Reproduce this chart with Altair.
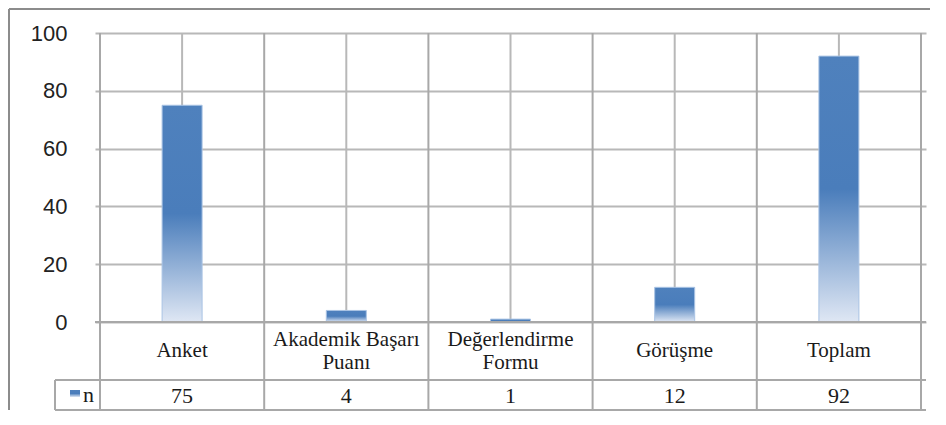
import altair as alt
import pandas as pd

# ---- data ----
categories = ["Anket", "Akademik Başarı Puanı", "Değerlendirme Formu", "Görüşme", "Toplam"]
label_lines = [["Anket"], ["Akademik Başarı", "Puanı"], ["Değerlendirme", "Formu"], ["Görüşme"], ["Toplam"]]
values = [75, 4, 1, 12, 92]
series_name = "n"
y_ticks = [0, 20, 40, 60, 80, 100]

ncat = len(categories)
df = pd.DataFrame({
    "cat": categories,
    "pos": [i + 0.5 for i in range(ncat)],
    "n": values,
})
bounds_df = pd.DataFrame({"b": list(range(ncat + 1))})

lab_rows = []
for i, lines in enumerate(label_lines):
    for k, t in enumerate(lines):
        lab_rows.append({"pos": i + 0.5, "t": t, "k": k, "m": len(lines)})
lab_df = pd.DataFrame(lab_rows)
legend_df = pd.DataFrame({"name": [series_name]})

# ---- layout (pixels, plot-area relative) ----
W, H = 831, 289
ROW_Y = 347
BOT_Y = 377
LEG_X = -40
LAB_Y = (H + ROW_Y) / 2
LH = 23

GRID = "#b8b8b8"
TABLE = "#a8a8a8"
FRAME = "#8c8c8c"
TXT = "#1a1a1a"
SERIF = "Liberation Serif, Times New Roman, Tinos, DejaVu Serif, serif"

grad = alt.Gradient(
    gradient="linear",
    stops=[
        alt.GradientStop(color="#4f81bd", offset=0),
        alt.GradientStop(color="#4a7dbb", offset=0.5),
        alt.GradientStop(color="#dfe7f4", offset=1),
    ],
    x1=0, x2=0, y1=0, y2=1,
)

xscale = alt.Scale(domain=[0, ncat], nice=False, zero=False)
yscale = alt.Scale(domain=[0, 100], nice=False, zero=True)

yaxis = alt.Axis(
    values=y_ticks, grid=True, gridColor=GRID, gridWidth=2,
    domain=False, ticks=False, labelFontSize=22, labelFont="Liberation Sans, Arial, sans-serif",
    labelColor="#222222", labelPadding=28, title=None,
)

bars = alt.Chart(df).mark_bar(size=40, color=grad, stroke="#a9c3e4", strokeWidth=1).encode(
    x=alt.X("pos:Q", scale=xscale, axis=None),
    y=alt.Y("n:Q", scale=yscale, axis=yaxis),
)

center_rules = alt.Chart(df).mark_rule(color=GRID, strokeWidth=2).encode(
    x=alt.X("pos:Q", scale=xscale, axis=None),
    y=alt.value(0),
    y2=alt.value(H),
)

bound_rules = alt.Chart(bounds_df).mark_rule(color=TABLE, strokeWidth=2).encode(
    x=alt.X("b:Q", scale=xscale, axis=None),
    y=alt.value(0),
    y2=alt.value(BOT_Y),
)

zero_line = alt.Chart(legend_df).mark_rule(color=TABLE, strokeWidth=2).encode(
    x=alt.value(0), x2=alt.value(W), y=alt.value(H)
)
row_line = alt.Chart(legend_df).mark_rule(color=TABLE, strokeWidth=2).encode(
    x=alt.value(LEG_X), x2=alt.value(W), y=alt.value(ROW_Y)
)
bot_line = alt.Chart(legend_df).mark_rule(color=TABLE, strokeWidth=2).encode(
    x=alt.value(LEG_X), x2=alt.value(W), y=alt.value(BOT_Y)
)
leg_left = alt.Chart(legend_df).mark_rule(color=TABLE, strokeWidth=2).encode(
    x=alt.value(LEG_X), y=alt.value(ROW_Y), y2=alt.value(BOT_Y)
)

txt = dict(font=SERIF, fontSize=22, baseline="middle", align="center", color=TXT)
txt_lab = dict(txt, fontSize=21)

lab_single = alt.Chart(lab_df).transform_filter("datum.m == 1").mark_text(**txt_lab).encode(
    x=alt.X("pos:Q", scale=xscale, axis=None), y=alt.value(LAB_Y), text="t:N"
)
lab_first = alt.Chart(lab_df).transform_filter("datum.m == 2 && datum.k == 0").mark_text(**txt_lab).encode(
    x=alt.X("pos:Q", scale=xscale, axis=None), y=alt.value(LAB_Y - LH / 2), text="t:N"
)
lab_second = alt.Chart(lab_df).transform_filter("datum.m == 2 && datum.k == 1").mark_text(**txt_lab).encode(
    x=alt.X("pos:Q", scale=xscale, axis=None), y=alt.value(LAB_Y + LH / 2), text="t:N"
)

val_labels = alt.Chart(df).mark_text(**txt).encode(
    x=alt.X("pos:Q", scale=xscale, axis=None),
    y=alt.value((ROW_Y + BOT_Y) / 2 + 1),
    text=alt.Text("n:Q"),
)

leg_square = alt.Chart(legend_df).mark_rect(color=grad).encode(
    x=alt.value(-25), x2=alt.value(-15), y=alt.value(357), y2=alt.value(364)
)
leg_text = alt.Chart(legend_df).mark_text(
    font=SERIF, fontSize=22, baseline="middle", align="left", color=TXT,
).encode(
    x=alt.value(-12), y=alt.value(362), text="name:N"
)

frame_left = alt.Chart(legend_df).mark_rule(color=FRAME, strokeWidth=2).encode(
    x=alt.value(-86), y=alt.value(-24), y2=alt.value(BOT_Y)
)
frame_top = alt.Chart(legend_df).mark_rule(color=FRAME, strokeWidth=2).encode(
    x=alt.value(-86), x2=alt.value(W + 4), y=alt.value(-24)
)

chart = alt.layer(
    center_rules, bars, bound_rules, zero_line,
    row_line, bot_line, leg_left, lab_single, lab_first, lab_second, val_labels,
    leg_square, leg_text, frame_left, frame_top,
).properties(
    width=W, height=H, padding=0,
).configure_view(stroke=None)

chart.save("out.html", embed_options={"renderer": "svg", "actions": False})
